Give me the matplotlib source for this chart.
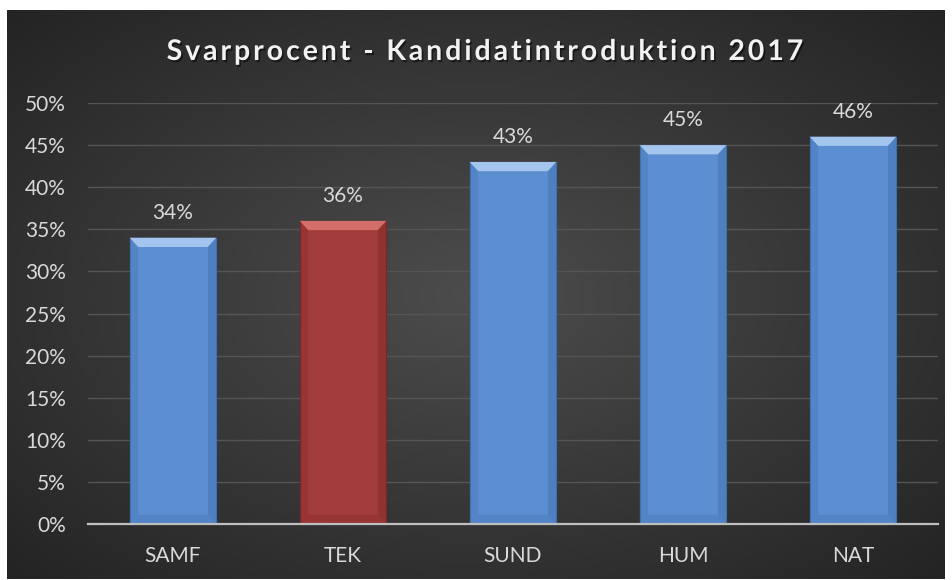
import numpy as np
import matplotlib
matplotlib.use("Agg")
import matplotlib.pyplot as plt
from matplotlib.patches import Polygon
from matplotlib.font_manager import FontProperties
import matplotlib.patheffects as pe
from matplotlib.ticker import MultipleLocator, FuncFormatter

# data
categories = ["SAMF", "TEK", "SUND", "HUM", "NAT"]
values = [0.34, 0.36, 0.43, 0.45, 0.46]
highlight = "TEK"
title = "Svarprocent - Kandidatintroduktion 2017"

blue = "#5c8fd1"
blue_top = "#a3c5ee"
blue_side = "#3f6fae"
red = "#a33d3b"
red_top = "#d46e6a"
red_side = "#7a2523"
txt = "#d9d9d9"

fig = plt.figure(figsize=(9.53, 5.8), dpi=100, facecolor="white")

# dark radial background
bg = fig.add_axes([7/953, 1/580, 938/953, 569/580])
yy, xx = np.mgrid[0:1:300j, 0:1:500j]
r = np.sqrt(((xx - 0.5) / 0.75) ** 2 + ((yy - 0.5) / 0.75) ** 2)
shade = np.clip(0.30 - 0.17 * r, 0.14, 0.30)
bg.imshow(np.dstack([shade] * 3), aspect="auto", extent=[0, 1, 0, 1])
bg.axis("off")

ax = fig.add_axes([88/953, 1 - 524/580, 850/953, 421/580])
ax.patch.set_alpha(0)
x = np.arange(len(categories))
w = 0.51
ax.set_xlim(-0.5, len(categories) - 0.5)
ax.set_ylim(0, 0.5)

for xi, cat, v in zip(x, categories, values):
    body, top, side = (red, red_top, red_side) if cat == highlight else (blue, blue_top, blue_side)
    ax.bar(xi, v, width=w, color=body, edgecolor=side, linewidth=0.8, zorder=3)
    x0, x1 = xi - w / 2, xi + w / 2
    d, h = 0.05, 0.011
    # bevel: top, sides, bottom
    ax.add_patch(Polygon([(x0, v), (x1, v), (x1 - d, v - h), (x0 + d, v - h)],
                         closed=True, color=top, lw=0, zorder=4))
    ax.add_patch(Polygon([(x0, v), (x0 + d, v - h), (x0 + d, h), (x0, 0)],
                         closed=True, color=side, alpha=0.3, lw=0, zorder=4))
    ax.add_patch(Polygon([(x1, v), (x1 - d, v - h), (x1 - d, h), (x1, 0)],
                         closed=True, color=side, alpha=0.45, lw=0, zorder=4))
    ax.add_patch(Polygon([(x0, 0), (x1, 0), (x1 - d, h), (x0 + d, h)],
                         closed=True, color=side, alpha=0.3, lw=0, zorder=4))
    ax.text(xi, v + 0.018, "{:.0f}%".format(v * 100), ha="center", va="bottom",
            color=txt, fontsize=15, family="Lato", zorder=5)

ax.yaxis.set_major_locator(MultipleLocator(0.05))
ax.yaxis.set_major_formatter(FuncFormatter(lambda v, p: "{:.0f}%".format(v * 100)))
ax.grid(axis="y", color="#555555", linewidth=1, zorder=0)
ax.set_axisbelow(True)
ax.set_xticks(x)
ax.set_xticklabels(categories)
ax.tick_params(length=0, colors=txt, labelsize=15)
ax.tick_params(axis="y", pad=16)
ax.tick_params(axis="x", pad=16)
for lab in ax.get_xticklabels() + ax.get_yticklabels():
    lab.set_family("Lato")
for s in ["top", "right", "left"]:
    ax.spines[s].set_visible(False)
ax.spines["bottom"].set_color("#bfbfbf")
ax.spines["bottom"].set_linewidth(1.6)
ax.spines["bottom"].set_zorder(6)

# title with letter spacing (placed per character)
prop = FontProperties(family="Lato", weight="bold", size=20.5)
renderer = fig.canvas.get_renderer()
def adv(s):
    a = renderer.get_text_width_height_descent(s + "|", prop, ismath=False)[0]
    b = renderer.get_text_width_height_descent("|", prop, ismath=False)[0]
    return a - b
track = 2.9
total = adv(title) + track * (len(title) - 1)
start = 485 - total / 2
for i, ch in enumerate(title):
    if ch == " ":
        continue
    px = start + adv(title[:i]) + track * i
    fig.text(px / 953, 1 - 60/580, ch, ha="left", va="baseline", color="#f2f2f2",
             fontproperties=prop,
             path_effects=[pe.withSimplePatchShadow(offset=(1.2, -1.5), shadow_rgbFace="black", alpha=0.5)])

fig.savefig("out.png", dpi=100, facecolor="white")
